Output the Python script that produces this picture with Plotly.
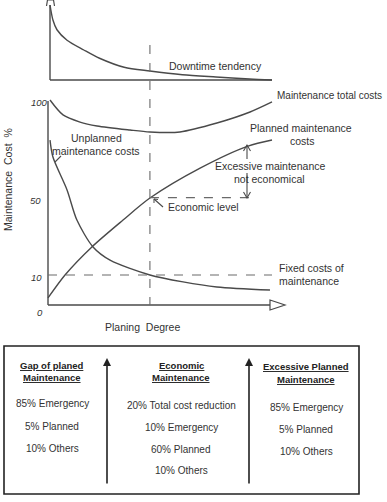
import plotly.graph_objects as go

W, H = 387, 502

# ---------------- data (planning degree 0..100) ----------------
downtime_x = [0.9, 2.2, 4.0, 8.5, 16.0, 23.0, 34.0, 45.5, 60.0, 75.0, 90.0, 100.0]
downtime_y = [100, 80, 67, 53, 40, 29, 17, 12, 7, 4, 1.3, 0]

total_x = [0.9, 6.7, 14.3, 21.9, 36.6, 45.5, 58.9, 75.4, 90.2, 100.0]
total_y = [100.5, 92.8, 89.1, 87.1, 85.0, 84.0, 84.0, 88.6, 94.3, 99.5]

unplanned_x = [0.9, 2.2, 8.5, 12.9, 20.1, 27.7, 45.5, 60.3, 75.4, 99.1]
unplanned_y = [79.8, 71.0, 54.0, 38.4, 24.5, 17.7, 10.0, 6.4, 3.8, 2.2]

planned_x = [0.0, 7.6, 19.6, 33.5, 45.5, 67.9, 89.3, 100.0]
planned_y = [-1.9, 10.0, 24.5, 38.4, 49.8, 65.3, 76.7, 79.8]

y_ticks = [100, 50, 10, 0]
y_tick_labels = ["100", "50", "10", "0"]

economic_x = 45.5
economic_level = 50
fixed_level = 10

col_titles = [["Gap of planed", "Maintenance"],
              ["Economic", "Maintenance"],
              ["Excessive Planned", "Maintenance"]]
col_items = [["85% Emergency", "5% Planned", "10% Others"],
             ["20% Total cost reduction", "10% Emergency", "60% Planned", "10% Others"],
             ["85% Emergency", "5% Planned", "10% Others"]]

# ---------------- pixel helpers ----------------
X0PX, XSC = 48.0, 2.24          # x data 0 -> px 48, 1 unit = 2.24 px
Y100PX, YSC = 101.0, 1.933      # y data 100 -> px 101
def dx(px):
    return (px - X0PX) / XSC
def dy(py):
    return 100 - (py - Y100PX) / YSC
def P(px, py):
    return px / W, 1 - py / H

LINE = "#4a4a4a"
DASH = "#6a6a6a"
TXT = "#333333"
FONT = "Liberation Sans, Arial, sans-serif"

fig = go.Figure()
curve = dict(mode="lines", line=dict(color=LINE, width=1.4, shape="spline", smoothing=0.8),
             hoverinfo="skip", showlegend=False)
fig.add_trace(go.Scatter(x=downtime_x, y=downtime_y, yaxis="y2", **curve))
fig.add_trace(go.Scatter(x=total_x, y=total_y, **curve))
fig.add_trace(go.Scatter(x=unplanned_x, y=unplanned_y, **curve))
fig.add_trace(go.Scatter(x=planned_x, y=planned_y, **curve))

shapes = []
def seg(x0, y0, x1, y1, color=LINE, width=1.4, dash="solid", ref="pix"):
    if ref == "pix":
        a0, b0 = P(x0, y0); a1, b1 = P(x1, y1)
        shapes.append(dict(type="line", xref="paper", yref="paper", x0=a0, y0=b0, x1=a1, y1=b1,
                           line=dict(color=color, width=width, dash=dash)))
    else:
        shapes.append(dict(type="line", xref="x", yref="y", x0=x0, y0=y0, x1=x1, y1=y1,
                           line=dict(color=color, width=width, dash=dash)))

def poly(pts, color=LINE, width=1.2, closed=False):
    path = "M " + " L ".join(f"{px/W:.5f},{1-py/H:.5f}" for px, py in pts)
    if closed:
        path += " Z"
    shapes.append(dict(type="path", xref="paper", yref="paper", path=path,
                       line=dict(color=color, width=width)))

# top panel axes
seg(50, 5, 50, 80)
seg(50, 80, 272, 80)
poly([(46.5, 6), (47.5, 0), (53.5, 0), (54.5, 6)], width=1.2)

# bottom panel axes
seg(48, 101, 48, 305)
seg(48, 305, 270, 305)
poly([(270, 300), (285, 305), (270, 310)], width=1.2, closed=True)

# dashed guides
seg(economic_x, dy(45), economic_x, dy(305), color=DASH, width=1.1, dash="dash", ref="data")
seg(0, fixed_level, 100, fixed_level, color=DASH, width=1.1, dash="dash", ref="data")
seg(economic_x, economic_level, dx(252), economic_level, color=DASH, width=1.1, dash="dash", ref="data")

# excessive maintenance double arrow
seg(247, 145, 247, 159, width=1.1)
seg(247, 173, 247, 198, width=1.1)
poly([(243.5, 151), (247, 145), (250.5, 151)], width=1.1)
poly([(243.5, 192), (247, 198), (250.5, 192)], width=1.1)

# leader lines
seg(154, 199, 163, 207, width=1.1)
poly([(154, 203), (154, 199), (158, 199.5)], width=1.0)
seg(55, 162, 61, 156, width=1.1)

# bottom box
bx0, by0 = P(4, 346); bx1, by1 = P(359, 494)
shapes.append(dict(type="rect", xref="paper", yref="paper", x0=bx0, y0=by1, x1=bx1, y1=by0,
                   line=dict(color="#222222", width=1.6)))

annotations = []
def txt(s, px, py, size=10.5, xanchor="center", color=TXT, italic=False, angle=0, bold=False):
    x, y = P(px, py)
    if bold:
        s = f"<b><u>{s}</u></b>"
    if italic:
        s = f"<i>{s}</i>"
    annotations.append(dict(text=s, x=x, y=y, xref="paper", yref="paper", xanchor=xanchor,
                            yanchor="middle", showarrow=False, textangle=angle,
                            font=dict(family=FONT, size=size, color=color)))

# vertical arrows in box
for axpx in (107, 249):
    x, y = P(axpx, 358)
    annotations.append(dict(x=x, y=y, xref="paper", yref="paper", ax=0, ay=127, axref="pixel",
                            ayref="pixel", text="", showarrow=True, arrowhead=2, arrowsize=1,
                            arrowwidth=1.6, arrowcolor="#222222"))

# chart labels
txt("Downtime tendency", 167, 66, xanchor="left")
txt("Maintenance total costs", 275, 95, size=10, xanchor="left")
txt("Unplanned", 96, 138)
txt("maintenance costs", 96, 151)
txt("Planned maintenance", 301, 128)
txt("costs", 302, 141)
txt("Excessive maintenance", 270, 166)
txt("not economical", 269, 179)
txt("Economic level", 166, 207, xanchor="left")
txt("Fixed costs of", 277, 268, xanchor="left")
txt("maintenance", 277, 281, xanchor="left")
txt("Planing  Degree", 142, 327, size=10.5)
txt("Maintenance  Cost  %", 8, 180, size=10.5, angle=-90)

# y tick labels
tick_px = {100: (39, 102), 50: (35, 200), 10: (36, 277), 0: (40, 312)}
for v, lab in zip(y_ticks, y_tick_labels):
    px, py = tick_px[v]
    txt(lab, px, py, size=9.5, italic=True)

# box text
col_cx = [52, 181, 306]
title_py = [(365, 377), (365, 377), (366, 379)]
item_py = [[403, 426, 448], [405, 427, 449, 470], [407, 429, 451]]
for c in range(3):
    for t, py in zip(col_titles[c], title_py[c]):
        txt(t, col_cx[c], py, size=9.5, bold=True, color="#222222")
    for t, py in zip(col_items[c], item_py[c]):
        txt(t, col_cx[c], py, size=10, color="#333333")

fig.update_layout(
    width=W, height=H, autosize=False,
    margin=dict(l=0, r=0, t=0, b=0, pad=0),
    paper_bgcolor="white", plot_bgcolor="white",
    xaxis=dict(range=[dx(0), dx(W)], domain=[0, 1], visible=False, fixedrange=True),
    yaxis=dict(range=[dy(H), dy(0)], domain=[0, 1], visible=False, fixedrange=True),
    yaxis2=dict(range=[(80 - H) / 0.75, 80 / 0.75], overlaying="y", visible=False, fixedrange=True),
    shapes=shapes, annotations=annotations, showlegend=False,
)

fig.write_html("out.html")
